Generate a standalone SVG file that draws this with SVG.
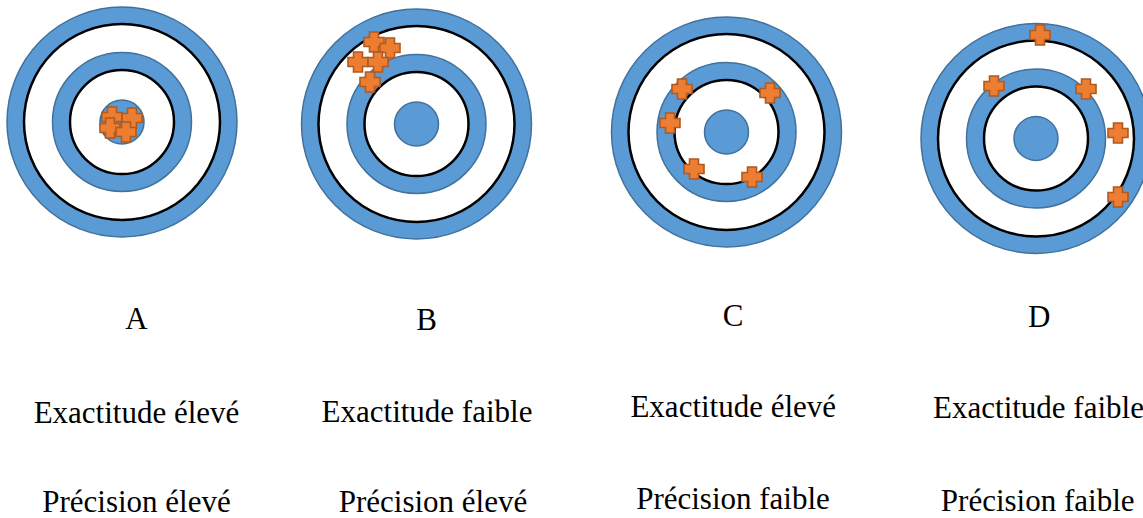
<svg xmlns="http://www.w3.org/2000/svg" xmlns:xlink="http://www.w3.org/1999/xlink" width="1143" height="518" viewBox="0 0 1143 518">
<style>
.blue{fill:#5B9BD5;stroke:#41719C;stroke-width:1.5}
.white{fill:#FFFFFF;stroke:#000000;stroke-width:2.5}
.cross{fill:#ED7D31;stroke:#AE5A21;stroke-width:1.6}
.lbl{font-family:"Liberation Serif","Times New Roman",serif;font-size:31px;fill:#000000;text-anchor:middle}
</style>
<defs>
<g id="target">
<circle class="blue" r="115"/>
<circle class="white" r="98"/>
<circle class="blue" r="69.5"/>
<circle class="white" r="52"/>
<circle class="blue" r="22"/>
</g>
<path id="plus" d="M-4.5,-10H4.5V-4.5H10V4.5H4.5V10H-4.5V4.5H-10V-4.5H-4.5Z"/>
</defs>
<rect width="1143" height="518" fill="#FFFFFF"/>
<g id="targetA">
<use xlink:href="#target" x="122" y="122"/>
<use xlink:href="#plus" class="cross" x="112" y="117"/>
<use xlink:href="#plus" class="cross" x="132" y="118"/>
<use xlink:href="#plus" class="cross" x="110" y="128"/>
<use xlink:href="#plus" class="cross" x="126" y="132"/>
<text class="lbl" x="136.5" y="329">A</text>
<text class="lbl" x="136.5" y="423">Exactitude élevé</text>
<text class="lbl" x="136.5" y="512">Précision élevé</text>
</g>
<g id="targetB">
<use xlink:href="#target" x="416.5" y="124"/>
<use xlink:href="#plus" class="cross" x="374" y="42"/>
<use xlink:href="#plus" class="cross" x="390" y="48"/>
<use xlink:href="#plus" class="cross" x="358" y="62"/>
<use xlink:href="#plus" class="cross" x="378" y="62"/>
<use xlink:href="#plus" class="cross" x="370" y="82"/>
<text class="lbl" x="426.5" y="330">B</text>
<text class="lbl" x="427" y="422">Exactitude faible</text>
<text class="lbl" x="433" y="512">Précision élevé</text>
</g>
<g id="targetC">
<use xlink:href="#target" x="726.5" y="132"/>
<use xlink:href="#plus" class="cross" x="682" y="89"/>
<use xlink:href="#plus" class="cross" x="770" y="93"/>
<use xlink:href="#plus" class="cross" x="670" y="123"/>
<use xlink:href="#plus" class="cross" x="694" y="169"/>
<use xlink:href="#plus" class="cross" x="752" y="177"/>
<text class="lbl" x="733" y="326">C</text>
<text class="lbl" x="733.3" y="417">Exactitude élevé</text>
<text class="lbl" x="733" y="509">Précision faible</text>
</g>
<g id="targetD">
<use xlink:href="#target" x="1036" y="138.5"/>
<use xlink:href="#plus" class="cross" x="1040" y="35"/>
<use xlink:href="#plus" class="cross" x="994" y="86"/>
<use xlink:href="#plus" class="cross" x="1086" y="89"/>
<use xlink:href="#plus" class="cross" x="1118" y="133"/>
<use xlink:href="#plus" class="cross" x="1118" y="197"/>
<text class="lbl" x="1039.3" y="327">D</text>
<text class="lbl" x="1038.5" y="418">Exactitude faible</text>
<text class="lbl" x="1037.7" y="511">Précision faible</text>
</g>
<g id="connectors"/>
</svg>
